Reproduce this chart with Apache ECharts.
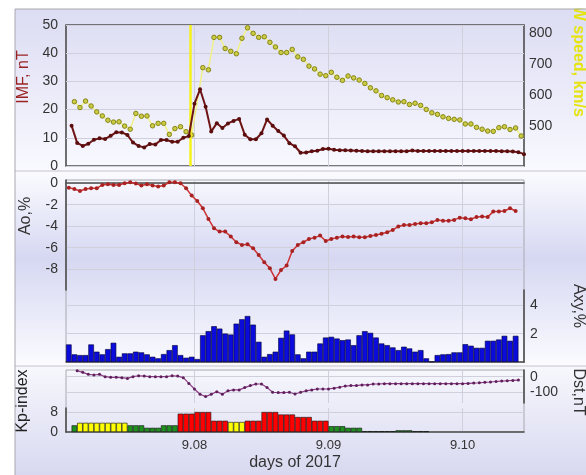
<!DOCTYPE html>
<html><head><meta charset="utf-8">
<script src="https://cdn.jsdelivr.net/npm/echarts@6/dist/echarts.min.js"></script>
<style>html,body{margin:0;padding:0;background:#fff}#c{width:586px;height:475px}</style>
</head><body><div id="c"></div>
<script>
// ---- data (hours counted from 2017-09-07 00:00) ----
const imfStartHour = 2;
const imfValues = [14.3, 8.2, 7.1, 7.9, 9.3, 9.8, 9.6, 10.7, 12.0, 11.9,
  11.0, 8.3, 7.1, 6.6, 7.8, 7.6, 9.2, 9.2, 8.6, 8.6,
  10.0, 10.6, 22.1, 27.2, 21.0, 12.2, 15.2, 13.5, 15.1, 16.0,
  16.7, 11.1, 9.5, 9.5, 11.6, 16.5, 14.3, 12.4, 10.8, 8.1,
  7.0, 4.7, 4.8, 5.2, 5.4, 6.0, 6.1, 5.8, 5.6, 5.6,
  5.5, 5.4, 5.3, 5.2, 5.2, 5.2, 5.2, 5.2, 5.2, 5.2,
  5.2, 5.5, 5.3, 5.3, 5.3, 5.3, 5.3, 5.3, 5.3, 5.3,
  5.3, 5.3, 5.3, 5.3, 5.3, 5.3, 5.3, 5.2, 5.2, 5.1,
  4.9, 4.2];
const speedStartHour = 2.5;
const speedValues = [579, 560, 581, 565, 546, 533, 519, 513, 514, 500,
  490, 541, 532, 533, 501, 509, 509, 473, 492, 498,
  482, 471, null, 689, 682, 787, 787, 751, 742, 734,
  784, 818, 800, 787, 789, 771, 756, 738, 738, 748,
  724, 716, 694, 685, 668, 663, 674, 658, 648, 662,
  656, 649, 638, 624, 614, 599, 592, 585, 578, 579,
  570, 574, 567, 554, 543, 538, 530, 525, 522, 520,
  507, 507, 496, 490, 484, 483, 495, 498, 489, 494, 468];
const aoStartHour = 1.5;
const aoValues = [-0.41, -0.53, -0.72, -0.53, -0.47, -0.47, -0.16, -0.10, -0.16, -0.16,
  0.00, 0.09, -0.03, -0.22, -0.10, -0.22, -0.31, -0.22, 0.09, 0.09,
  0.00, -0.47, -1.15, -1.65, -2.33, -3.32, -4.19, -4.50, -4.50, -4.96,
  -5.49, -5.74, -5.68, -6.05, -6.67, -7.35, -7.91, -8.90, -8.07, -7.66,
  -6.30, -5.74, -5.49, -5.18, -5.06, -4.87, -5.37, -5.18, -5.06, -4.96,
  -4.99, -4.96, -5.02, -5.02, -4.90, -4.81, -4.69, -4.56, -4.34, -4.03,
  -3.88, -3.88, -3.79, -3.72, -3.72, -3.63, -3.41, -3.48, -3.48, -3.41,
  -3.20, -3.26, -3.35, -3.13, -3.10, -3.13, -2.64, -2.64, -2.58, -2.33, -2.58];
const axyStartHour = 1.5;
const axyValues = [1.24, 0.54, 0.49, 0.49, 1.24, 0.73, 0.54, 0.91, 1.36, 0.37,
  0.61, 0.61, 0.73, 0.68, 0.54, 0.37, 0.26, 0.56, 0.84, 1.19,
  0.49, 0.30, 0.37, 0.21, 1.89, 2.18, 2.53, 2.36, 2.01, 1.94,
  2.71, 3.02, 3.25, 2.64, 1.43, 0.37, 0.56, 0.73, 1.71, 2.22,
  1.95, 0.54, 0.26, 0.73, 0.73, 1.31, 1.73, 1.78, 1.66, 1.54,
  1.59, 1.19, 1.89, 2.18, 2.06, 1.73, 1.31, 1.19, 1.03, 0.84,
  1.08, 0.96, 0.73, 0.84, 0.26, 0.02, 0.49, 0.54, 0.56, 0.68,
  0.68, 1.26, 1.15, 1.00, 1.00, 1.50, 1.50, 1.59, 1.85, 1.50, 1.85];
const kpStartHour = 2.5;
const kpValues = [2.67,
  3.67, 3.67, 3.67, 3.67, 3.67, 3.67, 3.67, 3.67, 3.67,
  2.67, 2.67, 2.67, 1.67, 1.67, 1.67, 2.67, 2.67, 2.67,
  7.33, 7.33, 7.33, 8.0, 8.0, 8.0, 4.5, 4.5, 4.5,
  4.0, 4.0, 4.0, 4.5, 4.5, 4.5, 8.0, 8.0, 8.0,
  7.0, 7.0, 7.0, 6.0, 6.0, 6.0, 4.5, 4.5, 4.5,
  2.33, 2.33, 2.33, 1.67, 1.67, 1.67, 0.33, 0.33, 0.33,
  0.33, 0.33, 0.33, 0.67, 0.67, 0.67, 0.33, 0.33, 0.33];
const dstStartHour = 3;
const dstValues = [38, 28, 15, 11, 15, 0, -4, -4, -6, -11,
  0, 6, 4, 0, 0, 0, 0, 6, 4, -6,
  -43, -79, -113, -128, -113, -96, -113, -91, -85, -85,
  -70, -57, -47, -47, -70, -100, -102, -102, -100, -111,
  -100, -91, -85, -79, -79, -79, -74, -68, -60, -57,
  -57, -53, -53, -47, -47, -45, -45, -45, -45, -45,
  -45, -45, -45, -45, -45, -45, -45, -45, -45, -45,
  -43, -41, -39, -36, -34, -31, -28, -26, -24, -22];
const shockHour = 23.2;
const dayTickHours = [24, 48, 72];
const dayTickLabels = ['9.08', '9.09', '9.10'];
const speedTicks = [500, 600, 700, 800];
const aoTicks = [0, -2, -4, -6, -8];
const axyTicks = [2, 4];
const kpTicks = [0, 8];
const dstTicks = [0, -100];

// ---- build ----
const FONT = '"Liberation Sans", Arial, sans-serif';
function pairs(start, vals) { return vals.map((v, i) => [start + i, v]); }
function kpColor(v) { return v >= 4.5 ? '#ff0000' : (v >= 3.5 ? '#ffff00' : '#1f8f1f'); }

const GL = 66, GW = 458;
const darkLine = { show: true, lineStyle: { color: '#4e4e4e', width: 1.6 } };
const gridLine = { show: true, lineStyle: { color: '#cfd0dc', width: 1 } };
const lbl = { color: '#333', fontSize: 14, fontFamily: FONT };

function xa(g, extra) {
  return Object.assign({
    type: 'value', gridIndex: g, min: 1, max: 83,
    axisLine: { show: false },
    axisTick: { show: false, customValues: dayTickHours },
    axisLabel: { show: false },
    splitLine: gridLine
  }, extra || {});
}

const option = {
  animation: false,
  backgroundColor: '#ffffff',
  graphic: [
    { type: 'rect', z: -20, silent: true, shape: { x: 15, y: 9, width: 571, height: 162 },
      style: { fill: new echarts.graphic.LinearGradient(0, 0, 0, 1, [
        { offset: 0, color: '#dcdcf3' }, { offset: 1, color: '#f9f9ff' }]) } },
    { type: 'rect', z: -20, silent: true, shape: { x: 15, y: 171, width: 571, height: 195 },
      style: { fill: new echarts.graphic.LinearGradient(0, 0, 0, 1, [
        { offset: 0, color: '#fbfbff' }, { offset: 0.45, color: '#d6d8f2' }, { offset: 1, color: '#fbfbff' }]) } },
    { type: 'rect', z: -20, silent: true, shape: { x: 15, y: 366, width: 571, height: 109 },
      style: { fill: new echarts.graphic.LinearGradient(0, 0, 0, 1, [
        { offset: 0, color: '#f7f7fd' }, { offset: 1, color: '#d8d9f0' }]) } },
    { type: 'line', z: -10, silent: true, shape: { x1: 15, y1: 171, x2: 586, y2: 171 }, style: { stroke: '#c4c4cc', lineWidth: 1 } },
    { type: 'line', z: -10, silent: true, shape: { x1: 15, y1: 366, x2: 586, y2: 366 }, style: { stroke: '#c4c4cc', lineWidth: 1 } },
    { type: 'text', z: 10, x: 24, y: 77, rotation: Math.PI / 2,
      style: { text: 'IMF, nT', fill: '#9b2222', font: '16px ' + FONT, align: 'center', verticalAlign: 'middle', textAlign: 'center', textVerticalAlign: 'middle' } },
    { type: 'text', z: 10, x: 578, y: 56, rotation: -Math.PI / 2,
      style: { text: 'SW speed, km/s', fill: '#e6e410', font: 'bold 16px ' + FONT, align: 'center', verticalAlign: 'middle', textAlign: 'center', textVerticalAlign: 'middle' } },
    { type: 'rect', z: 20, silent: true, shape: { x: 0, y: 0, width: 586, height: 8.5 }, style: { fill: '#ffffff' } },
    { type: 'line', z: 21, silent: true, shape: { x1: 15, y1: 9, x2: 586, y2: 9 }, style: { stroke: '#a8a8b0', lineWidth: 1 } },
    { type: 'line', z: 21, silent: true, shape: { x1: 15, y1: 9, x2: 15, y2: 475 }, style: { stroke: '#a8a8b0', lineWidth: 1 } },
    { type: 'text', z: 10, x: 26, y: 216, rotation: Math.PI / 2,
      style: { text: 'Ao,%', fill: '#333', font: '16px ' + FONT, align: 'center', verticalAlign: 'middle', textAlign: 'center', textVerticalAlign: 'middle' } },
    { type: 'text', z: 10, x: 578, y: 306, rotation: -Math.PI / 2,
      style: { text: 'Axy,%', fill: '#333', font: '16px ' + FONT, align: 'center', verticalAlign: 'middle', textAlign: 'center', textVerticalAlign: 'middle' } },
    { type: 'text', z: 10, x: 23, y: 401, rotation: Math.PI / 2,
      style: { text: 'Kp-index', fill: '#222', font: '16px ' + FONT, align: 'center', verticalAlign: 'middle', textAlign: 'center', textVerticalAlign: 'middle' } },
    { type: 'text', z: 10, x: 578, y: 392, rotation: -Math.PI / 2,
      style: { text: 'Dst,nT', fill: '#333', font: '16px ' + FONT, align: 'center', verticalAlign: 'middle', textAlign: 'center', textVerticalAlign: 'middle' } }
  ],
  grid: [
    { left: GL, top: 25, width: GW, height: 141, show: true, borderColor: '#4e4e4e', borderWidth: 1.6, backgroundColor: 'transparent' },
    { left: GL, top: 180, width: GW, height: 110 },
    { left: GL, top: 290, width: GW, height: 72 },
    { left: GL, top: 180, width: GW, height: 182, show: true, borderColor: '#a8a8b0', borderWidth: 1, backgroundColor: 'transparent' },
    { left: GL, top: 370, width: GW, height: 33 },
    { left: GL, top: 408, width: GW, height: 24 },
    { left: GL, top: 370, width: GW, height: 62, show: true, borderColor: '#a8a8b0', borderWidth: 1, backgroundColor: 'transparent' }
  ],
  xAxis: [
    xa(0),
    xa(1, { position: 'top', axisLine: darkLine }),
    xa(2, { position: 'bottom', axisLine: darkLine }),
    xa(3, { show: false }),
    xa(4),
    xa(5, { position: 'bottom', axisLine: darkLine,
      axisLabel: { show: true, customValues: dayTickHours, margin: 7, color: '#333', fontSize: 13, fontFamily: FONT,
        formatter: v => dayTickLabels[dayTickHours.indexOf(v)] },
      name: 'days of 2017', nameLocation: 'middle', nameGap: 23,
      nameTextStyle: { color: '#333', fontSize: 16, fontFamily: FONT } }),
    xa(6, { show: false })
  ],
  yAxis: [
    { type: 'value', gridIndex: 0, min: 0, max: 50, interval: 10, axisLine: { show: false }, axisTick: { show: false },
      axisLabel: Object.assign({ margin: 8 }, lbl), splitLine: gridLine },
    { type: 'value', gridIndex: 0, position: 'right', min: 371, max: 827, axisLine: { show: false },
      axisTick: { show: false, customValues: speedTicks },
      axisLabel: Object.assign({ margin: 5, customValues: speedTicks }, lbl), splitLine: { show: false } },
    { type: 'value', gridIndex: 1, min: -9.93, max: 0.3, axisLine: darkLine,
      axisTick: { show: false, customValues: aoTicks },
      axisLabel: Object.assign({ margin: 8, customValues: aoTicks }, lbl), splitLine: gridLine },
    { type: 'value', gridIndex: 2, position: 'right', min: 0, max: 5.09, axisLine: darkLine,
      axisTick: { show: false, customValues: axyTicks },
      axisLabel: Object.assign({ margin: 6, customValues: axyTicks }, lbl), splitLine: gridLine },
    { type: 'value', gridIndex: 3, show: false, min: 0, max: 1 },
    { type: 'value', gridIndex: 4, position: 'right', min: -169, max: 43, axisLine: darkLine,
      axisTick: { show: false, customValues: dstTicks },
      axisLabel: Object.assign({ margin: 6, customValues: dstTicks }, lbl), splitLine: gridLine },
    { type: 'value', gridIndex: 5, min: 0, max: 9.6, axisLine: darkLine,
      axisTick: { show: false, customValues: kpTicks },
      axisLabel: Object.assign({ margin: 8, customValues: kpTicks }, lbl), splitLine: gridLine },
    { type: 'value', gridIndex: 6, show: false, min: 0, max: 1 }
  ],
  series: [
    { name: 'SW speed', type: 'line', xAxisIndex: 0, yAxisIndex: 1, z: 3,
      data: pairs(speedStartHour, speedValues), connectNulls: true,
      lineStyle: { color: '#f0f088', width: 1.5 },
      symbol: 'circle', symbolSize: 4.5,
      itemStyle: { color: '#cccc44', borderColor: '#858518', borderWidth: 1 } },
    { name: 'IMF', type: 'line', xAxisIndex: 0, yAxisIndex: 0, z: 5,
      data: pairs(imfStartHour, imfValues),
      lineStyle: { color: '#6e1414', width: 2 },
      symbol: 'circle', symbolSize: 4, itemStyle: { color: '#5a0e0e' },
      markLine: { silent: true, symbol: ['none', 'none'], label: { show: false },
        lineStyle: { color: '#f6f21c', width: 2.5, type: 'solid' },
        data: [{ xAxis: shockHour }] } },
    { name: 'Ao', type: 'line', xAxisIndex: 1, yAxisIndex: 2, z: 5,
      data: pairs(aoStartHour, aoValues),
      lineStyle: { color: '#cc3434', width: 1.5 },
      symbol: 'circle', symbolSize: 4, itemStyle: { color: '#a82222' } },
    { name: 'Axy', type: 'bar', xAxisIndex: 2, yAxisIndex: 3, z: 4,
      data: pairs(axyStartHour, axyValues), barWidth: '100%',
      itemStyle: { color: '#0b0bdc', borderColor: '#000033', borderWidth: 0.6 } },
    { name: 'Dst', type: 'line', xAxisIndex: 4, yAxisIndex: 5, z: 5,
      data: pairs(dstStartHour, dstValues),
      lineStyle: { color: '#8c3c84', width: 1.2 },
      symbol: 'circle', symbolSize: 3, itemStyle: { color: '#5e1f5a' } },
    { name: 'Kp', type: 'bar', xAxisIndex: 5, yAxisIndex: 6, z: 4, barWidth: '100%',
      data: kpValues.map((v, i) => ({ value: [kpStartHour + i, v], itemStyle: { color: kpColor(v) } })),
      itemStyle: { borderColor: '#101010', borderWidth: 0.6 } }
  ]
};

const chart = echarts.init(document.getElementById('c'), null, { renderer: 'canvas' });
chart.setOption(option);
</script>
</body></html>
